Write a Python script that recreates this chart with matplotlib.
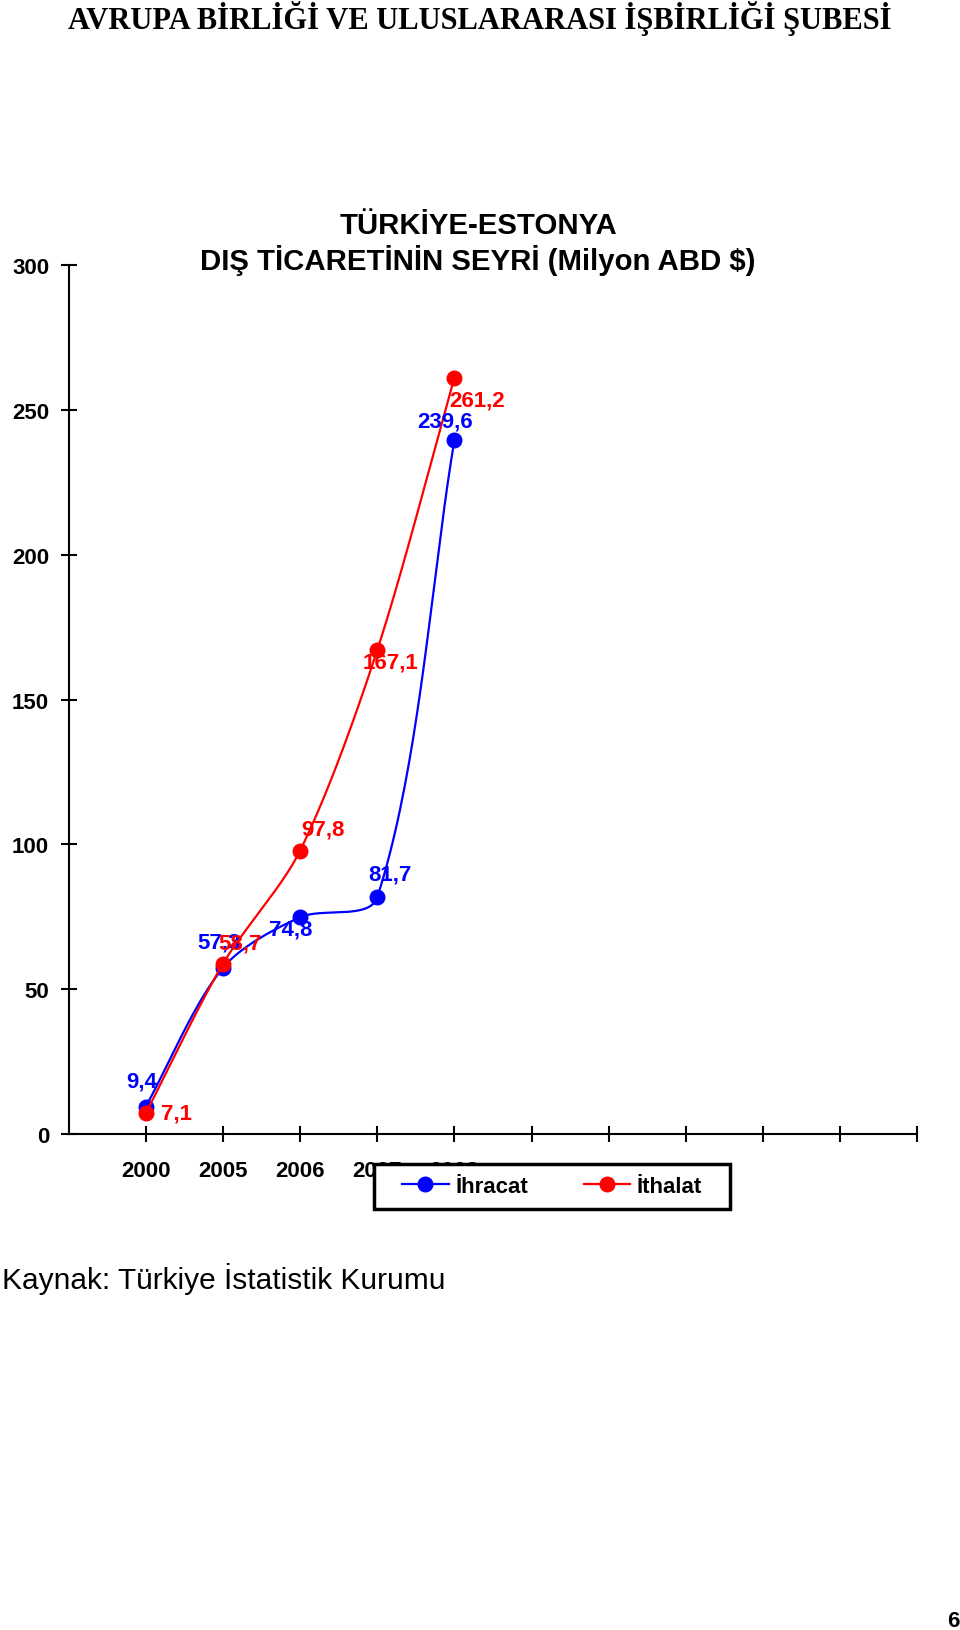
import numpy as np
import matplotlib
matplotlib.use("Agg")
import matplotlib.pyplot as plt
from matplotlib.patches import Rectangle

plt.rcParams['font.family'] = ['Liberation Sans', 'DejaVu Sans']

years = ["2000", "2005", "2006", "2007", "2008"]
ihracat = [9.4, 57.3, 74.8, 81.7, 239.6]
ithalat = [7.1, 58.7, 97.8, 167.1, 261.2]
ihracat_labels = ["9,4", "57,3", "74,8", "81,7", "239,6"]
ithalat_labels = ["7,1", "58,7", "97,8", "167,1", "261,2"]

# label offsets in pixels (dx, dy up)
ihr_off = [(-4, 26), (-4, 26), (-9, -12), (13, 23), (-9, 19)]
ith_off = [(31, 0), (17, 21), (23, 22), (13, -12), (23, -22)]

BLUE = '#0000ff'
RED = '#ff0000'


def smooth(ax, xs, ys, n=40, k=0.3):
    # excel-like smoothed line, built in screen space then mapped back
    pts = ax.transData.transform(np.column_stack([xs, ys]))
    out = []
    t = np.linspace(0, 1, n)[:, None]
    m = len(pts)
    for i in range(m - 1):
        p1, p2 = pts[i], pts[i + 1]
        seg = np.hypot(*(p2 - p1))
        d1 = pts[min(i + 1, m - 1)] - pts[max(i - 1, 0)]
        d2 = pts[min(i + 2, m - 1)] - pts[i]
        d1 = d1 / np.hypot(*d1)
        d2 = d2 / np.hypot(*d2)
        c1 = p1 + d1 * seg * k
        c2 = p2 - d2 * seg * k
        b = (1 - t) ** 3 * p1 + 3 * (1 - t) ** 2 * t * c1 + 3 * (1 - t) * t ** 2 * c2 + t ** 3 * p2
        out.append(b)
    out = ax.transData.inverted().transform(np.vstack(out))
    return out[:, 0], out[:, 1]


fig = plt.figure(figsize=(9.6, 16.31), dpi=100)
ax = fig.add_axes([68.6 / 960, 1 - 1134.8 / 1631, (917.4 - 68.6) / 960, (1134.8 - 266.3) / 1631])
ax.set_xlim(0, 11)
ax.set_ylim(0, 300)

x = np.arange(1, len(years) + 1)

sx, sy = smooth(ax, x, ihracat)
ax.plot(sx, sy, color=BLUE, lw=1.6, zorder=3)
ax.plot(x, ihracat, 'o', color=BLUE, ms=10.5, zorder=4)
sx, sy = smooth(ax, x, ithalat)
ax.plot(sx, sy, color=RED, lw=1.6, zorder=5)
ax.plot(x, ithalat, 'o', color=RED, ms=10.5, zorder=6)

for xi, v, s, o in zip(x, ihracat, ihracat_labels, ihr_off):
    ax.annotate(s, (xi, v), xytext=o, textcoords='offset pixels', ha='center', va='center',
                color=BLUE, fontsize=16, fontweight='bold', zorder=7)
for xi, v, s, o in zip(x, ithalat, ithalat_labels, ith_off):
    ax.annotate(s, (xi, v), xytext=o, textcoords='offset pixels', ha='center', va='center',
                color=RED, fontsize=16, fontweight='bold', zorder=8)

ax.set_xticks(np.arange(1, 12))
ax.set_xticklabels(years + [""] * 6)
ax.set_yticks([0, 50, 100, 150, 200, 250, 300])
ax.spines['top'].set_visible(False)
ax.spines['right'].set_visible(False)
ax.spines['left'].set_linewidth(1.5)
ax.spines['bottom'].set_linewidth(1.5)
ax.tick_params(axis='both', direction='inout', length=12, width=1.5, labelsize=16)
ax.tick_params(axis='y', pad=8)
ax.tick_params(axis='x', pad=13)
for lab in ax.get_xticklabels() + ax.get_yticklabels():
    lab.set_fontweight('bold')

fig.text(480 / 960, 1 - 18 / 1631, "AVRUPA BİRLİĞİ VE ULUSLARARASI İŞBİRLİĞİ ŞUBESİ",
         family='Liberation Serif', fontweight='bold', fontsize=22, ha='center', va='center')
fig.text(478 / 960, 1 - 226 / 1631, "TÜRKİYE-ESTONYA", fontsize=21.2, fontweight='bold',
         ha='center', va='center')
fig.text(478 / 960, 1 - 260 / 1631, "DIŞ TİCARETİNİN SEYRİ (Milyon ABD $)", fontsize=21.2,
         fontweight='bold', ha='center', va='center')
fig.text(2 / 960, 1 - 1279 / 1631, "Kaynak: Türkiye İstatistik Kurumu", fontsize=21.5,
         ha='left', va='center')
fig.text(947 / 960, 1 - 1622 / 1631, "6", fontsize=16, fontweight='bold', ha='left', va='center')

fig.patches.append(Rectangle((374 / 960, 1 - 1210 / 1631), 356 / 960, 45 / 1631,
                             transform=fig.transFigure, facecolor='white', edgecolor='black',
                             lw=2.5, zorder=4))
handles = [plt.Line2D([], [], color=BLUE, lw=1.6, marker='o', ms=10.5),
           plt.Line2D([], [], color=RED, lw=1.6, marker='o', ms=10.5)]
fig.legend(handles, ["İhracat", "İthalat"], loc='center', bbox_to_anchor=(552 / 960, 1 - 1187.5 / 1631),
           ncol=2, frameon=False, prop={'size': 16, 'weight': 'bold'}, handlelength=2.1,
           handletextpad=0.3, columnspacing=2.5)

fig.savefig('out.png', dpi=100)
